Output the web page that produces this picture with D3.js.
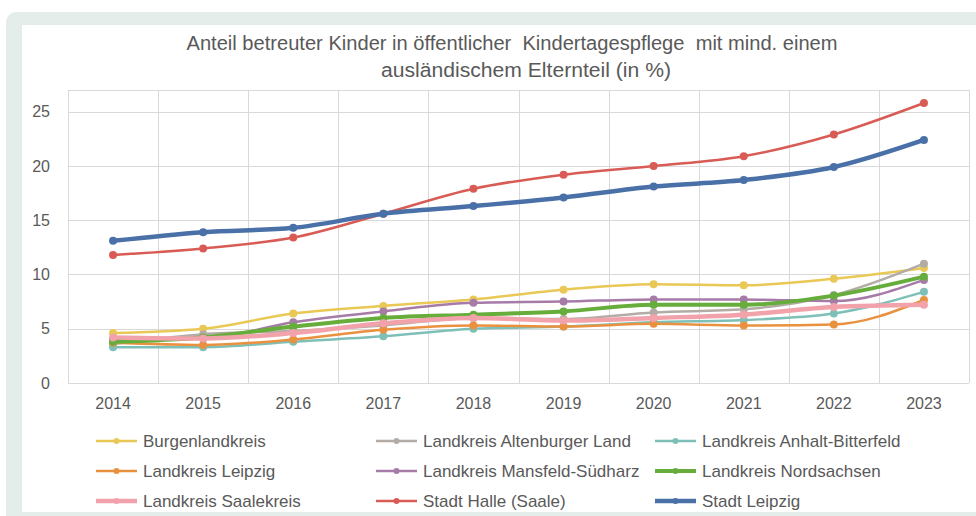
<!DOCTYPE html>
<html>
<head>
<meta charset="utf-8">
<script src="https://cdn.jsdelivr.net/npm/d3@7"></script>
<style>
  body { margin: 0; background: #fff; }
  svg { display: block; }
</style>
</head>
<body>
<div id="chart"></div>
<script>
const years = [2014, 2015, 2016, 2017, 2018, 2019, 2020, 2021, 2022, 2023];
const yTicks = [0, 5, 10, 15, 20, 25];

const seriesNames = [
  "Burgenlandkreis", "Landkreis Altenburger Land", "Landkreis Anhalt-Bitterfeld",
  "Landkreis Leipzig", "Landkreis Mansfeld-Südharz", "Landkreis Nordsachsen",
  "Landkreis Saalekreis", "Stadt Halle (Saale)", "Stadt Leipzig"
];

const burgenland   = [4.6, 5.0, 6.4, 7.1, 7.7, 8.6, 9.1, 9.0, 9.6, 10.6];
const altenburger  = [3.6, 4.5, 4.8, 5.3, 6.0, 5.9, 6.5, 6.8, 8.1, 11.0];
const anhalt       = [3.3, 3.3, 3.8, 4.3, 5.0, 5.2, 5.6, 5.8, 6.4, 8.4];
const lkLeipzig    = [3.7, 3.5, 4.0, 4.9, 5.3, 5.2, 5.45, 5.3, 5.4, 7.65];
const mansfeld     = [4.0, 4.1, 5.6, 6.6, 7.4, 7.5, 7.7, 7.7, 7.55, 9.5];
const nordsachsen  = [3.8, 4.2, 5.2, 6.0, 6.3, 6.6, 7.2, 7.2, 8.05, 9.8];
const saalekreis   = [4.2, 4.1, 4.6, 5.5, 6.0, 5.75, 6.0, 6.3, 7.0, 7.2];
const halle        = [11.8, 12.4, 13.4, 15.6, 17.9, 19.2, 20.0, 20.9, 22.9, 25.8];
const stadtLeipzig = [13.1, 13.9, 14.3, 15.6, 16.3, 17.1, 18.1, 18.7, 19.9, 22.4];

const seriesValues = [burgenland, altenburger, anhalt, lkLeipzig, mansfeld,
  nordsachsen, saalekreis, halle, stadtLeipzig];

const colors = ["#E9C856", "#B3ACA6", "#7EC0B8", "#EA9140", "#A67BA8",
  "#66AD3C", "#F2A2AA", "#D95B55", "#4A70A8"];
const widths = [2.5, 2.5, 2.5, 2.5, 2.5, 4, 4.5, 2.5, 4.5];

const series = seriesNames.map((name, i) => ({
  name, color: colors[i], width: widths[i],
  values: years.map((y, j) => ({ year: y, value: seriesValues[i][j] }))
}));

const W = 976, H = 516;
const plot = { left: 68, right: 969, top: 90, bottom: 383 };
const textColor = "#595959";
const gridColor = "#d9d9d9";
const font = "'Liberation Sans', Arial, sans-serif";

const svg = d3.select("#chart").append("svg")
  .attr("width", W).attr("height", H);

// frame background
svg.append("rect")
  .attr("x", 6).attr("y", 12).attr("width", W + 20).attr("height", H + 20)
  .attr("rx", 10).attr("fill", "#e4ede9");
svg.append("rect")
  .attr("x", 22).attr("y", 25).attr("width", W).attr("height", 487)
  .attr("fill", "#ffffff");

const x = d3.scaleBand()
  .domain(years)
  .range([plot.left, plot.right]);

const y = d3.scaleLinear()
  .domain([0, 27])
  .range([plot.bottom, plot.top]);

// title
const title = svg.append("text")
  .attr("text-anchor", "middle")
  .attr("fill", textColor)
  .style("font-family", font)
  .style("font-size", "20px");
title.append("tspan").attr("x", 512).attr("y", 50)
  .attr("xml:space", "preserve")
  .attr("textLength", 651).attr("lengthAdjust", "spacingAndGlyphs")
  .text("Anteil betreuter Kinder in öffentlicher  Kindertagespflege  mit mind. einem");
title.append("tspan").attr("x", 526).attr("y", 77)
  .attr("textLength", 290).attr("lengthAdjust", "spacingAndGlyphs")
  .text("ausländischem Elternteil (in %)");

// grid
const grid = svg.append("g");
grid.selectAll(".hgrid")
  .data(yTicks.concat([27]))
  .join("line")
  .attr("x1", plot.left).attr("x2", plot.right)
  .attr("y1", d => Math.round(y(d)) + 0.5).attr("y2", d => Math.round(y(d)) + 0.5)
  .attr("stroke", gridColor).attr("stroke-width", 1);
grid.selectAll(".vgrid")
  .data(years.map(d => x(d)).concat([plot.right]))
  .join("line")
  .attr("x1", d => Math.round(d) + 0.5).attr("x2", d => Math.round(d) + 0.5)
  .attr("y1", plot.top).attr("y2", plot.bottom)
  .attr("stroke", gridColor).attr("stroke-width", 1);

// axes
const yAxis = svg.append("g")
  .attr("transform", `translate(${plot.left},0)`)
  .call(d3.axisLeft(y).tickValues(yTicks).tickSize(0).tickPadding(18));
const xAxis = svg.append("g")
  .attr("transform", `translate(0,${plot.bottom})`)
  .call(d3.axisBottom(x).tickSize(0).tickPadding(15));
[yAxis, xAxis].forEach(a => {
  a.select(".domain").remove();
  a.selectAll("text")
    .attr("fill", textColor)
    .style("font-family", font)
    .style("font-size", "16px");
});

// lines
const line = d3.line()
  .x(d => x(d.year) + x.bandwidth() / 2)
  .y(d => y(d.value))
  .curve(d3.curveMonotoneX);

const lines = svg.append("g");
series.forEach(s => {
  const g = lines.append("g");
  g.append("path")
    .datum(s.values)
    .attr("d", line)
    .attr("fill", "none")
    .attr("stroke", s.color)
    .attr("stroke-width", s.width)
    .attr("stroke-linejoin", "round")
    .attr("stroke-linecap", "round");
  g.selectAll("circle")
    .data(s.values)
    .join("circle")
    .attr("cx", d => x(d.year) + x.bandwidth() / 2)
    .attr("cy", d => y(d.value))
    .attr("r", 4)
    .attr("fill", s.color);
});

// legend
const legendCols = [96, 376, 655];
const legendRows = [441, 471, 501];
const legend = svg.append("g");
series.forEach((s, i) => {
  const lx = legendCols[i % 3];
  const ly = legendRows[Math.floor(i / 3)];
  const g = legend.append("g").attr("transform", `translate(${lx},${ly})`);
  g.append("line")
    .attr("x1", 0).attr("x2", 41).attr("y1", 0).attr("y2", 0)
    .attr("stroke", s.color).attr("stroke-width", s.width);
  g.append("circle").attr("cx", 20.5).attr("cy", 0).attr("r", 3).attr("fill", s.color);
  g.append("text")
    .attr("x", 47).attr("y", 0).attr("dy", "0.35em")
    .attr("fill", textColor)
    .style("font-family", font)
    .style("font-size", "17px")
    .text(s.name);
});
</script>
</body>
</html>
